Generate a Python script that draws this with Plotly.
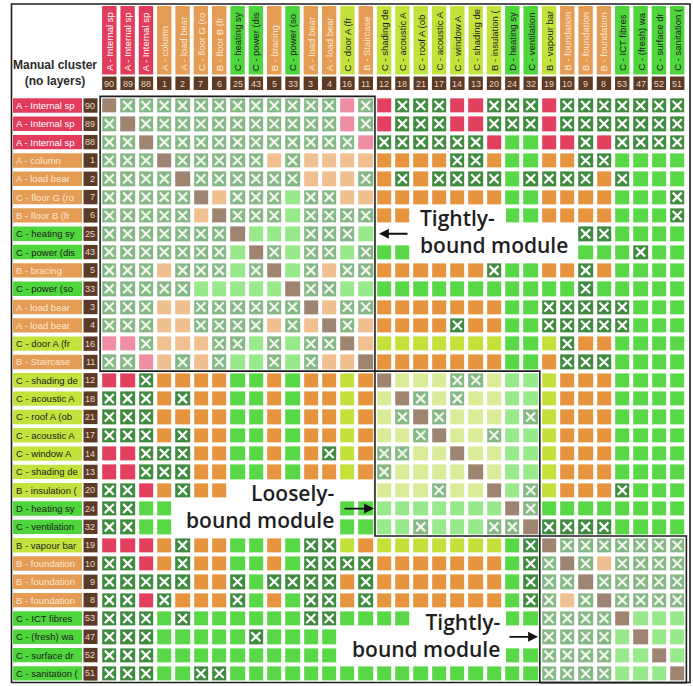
import plotly.graph_objects as go

# ---------------- data ----------------
ids = [90, 89, 88, 1, 2, 7, 6, 25, 43, 5, 33, 3, 4, 16, 11,
       12, 18, 21, 17, 14, 13, 20, 24, 32,
       19, 10, 9, 8, 53, 47, 52, 51]
names = ["A - Internal sp", "A - Internal sp", "A - Internal sp", "A - column",
         "A - load bear", "C - floor G (ro", "B - floor B (fr", "C - heating sy",
         "C - power (dis", "B - bracing", "C - power (so", "A - load bear",
         "A - load bear", "C - door A (fr", "B - Staircase", "C - shading de",
         "C - acoustic A", "C - roof A (ob", "C - acoustic A", "C - window A",
         "C - shading de", "B - insulation (", "D - heating sy", "C - ventilation",
         "B - vapour bar", "B - foundation", "B - foundation", "B - foundation",
         "C - ICT fibres", "C - (fresh) wa", "C - surface dr", "C - sanitation ("]
# element category (label colour): R red, O orange, G green, Y yellow-green
cats = "RRROOOOGGOGOOYOYYYYYYYGGYOOOGGGG"
# module index of each element (three boxed clusters)
modules = [0] * 15 + [1] * 9 + [2] * 8
# DSM cells: D diagonal, X no-interaction mark, R/O/G/Y cell colour
dsm = [
    "DXXXXXXXXXXXXRX" + "R" + "XXXRRXXXRXXXXXXX",
    "XDXXXXXXXXXXXRX" + "R" + "XXXRRXXXRXXXXXXX",
    "XXDXXXXXXXXXXXR" + "X" + "XXXXXRGGRRXRXXXX",
    "XXXDXXXXXOXOOOO" + "O" + "OOOXXOGGOOXXGGGG",
    "XXXXDXXXXXXOOOX" + "O" + "XOXXXXGXXXXOXGGG",
    "XXXXXDOXXXGXXOO" + "O" + "OOOOOOGGOOOOGGGX",
    "XXXXXODXXXGXXXX" + "O" + "OOOOOOGGOOOOGGGX",
    "XXXXXXXDGGGXXXG" + "G" + "GGGGGGGGGGXXGGGG",
    "XXXXXXXGDXGXXGX" + "G" + "GGGGGGGGGGGGGXGG",
    "XXXOXXXGXDGXOXX" + "O" + "OOOOOXGGOOXOGGGG",
    "XXXXXGGGGGDXXGG" + "G" + "GGGGGGGGGGXGGGGG",
    "XXXOOXXXXXXDOXX" + "O" + "OOOOOOGGXXXXXGGG",
    "XXXOOXXXXOXODXO" + "O" + "OOOXOOGGXXXXXGGG",
    "RRXOOOXXGXGXXDO" + "Y" + "YYYYYYGGYXOOGGGG",
    "XXROXOXGGXGXOOD" + "O" + "OOOOOOGGOXXXGGGG",
    "RRXOOOOGGOGOOYO" + "D" + "YYYXXYGGYOOOGGGG",
    "XXXOXOOGGOGOOYO" + "Y" + "DXYXYYGGYOOOGGGG",
    "XXXOOOOGGOGOOYO" + "Y" + "XDXYYYGXYOOOGGGG",
    "XXXOXOOGGOGOOYO" + "Y" + "YXDYYXGGYOOOGGGG",
    "RRXXXOOGGOGOXYO" + "X" + "XYYDYYGGYOOOGGGG",
    "RRXXXOOGGOGOOYO" + "X" + "YYYYDYGGYOOOGGGG",
    "XXROXOOGGOGOOYO" + "Y" + "YYXYYDGXYOOOXGGG",
    "XXGGOOOGGOGOOGG" + "G" + "GGGGGGDXGGGGGGGG",
    "XXGGOOOGGOGOOGG" + "G" + "GXGGGXXDXXXXGGGG",
    "RRROXOOGGOGXXYO" + "Y" + "YYYYYYGXDXXXXXXX",
    "XXROXOOGGOGXXXX" + "O" + "OOOOOOGXXDXOXXXX",
    "XXXXXOOXGXXXXOX" + "O" + "OOOOOOGXXXDXXXXX",
    "XXRXOOOXGOGXXOX" + "O" + "OOOOOOGXXOXDXXXX",
    "XXXGXGGGGGGXXGG" + "G" + "GGGGGGGGXXXXDGGG",
    "XXXGGGGGXGGGGGG" + "G" + "GGGGGGGGXXXXGDGG",
    "XXXGGGGGGGGGGGG" + "G" + "GGGGGGGGXXXXGGDG",
    "XXXGGXXGGGGGGGG" + "G" + "GGGGGGGGXXXXGGGD",
]
module_spans = [(0, 14), (15, 23), (24, 31)]
captions = ["Tightly-<br>bound module", "Loosely-<br>bound module",
            "Tightly-<br>bound module"]

# ---------------- styling ----------------
N = len(ids)
assert all(len(r) == N for r in dsm) and len(dsm) == N
W, H = 693, 686
PITCH = 18.32
X0PX, Y0PX = 109.3, 105.5   # pixel centre of cell (0,0)


def xd(px):
    return (px - X0PX) / PITCH


def yd(py):
    return (py - Y0PX) / PITCH


code_colors = [
    "#9d8571",  # 0 diagonal
    "#86b886",  # 1 X inside module
    "#3f8c3e",  # 2 X outside module
    "#e2405e",  # 3 red
    "#ee8ea2",  # 4 pale red
    "#e6953e",  # 5 orange
    "#f0c090",  # 6 pale orange
    "#58d846",  # 7 green
    "#98e98c",  # 8 pale green
    "#c4e03a",  # 9 yellow-green
    "#dbec98",  # 10 pale yellow-green
]
base_code = {"R": 3, "O": 5, "G": 7, "Y": 9}
label_fill = {"R": "#e13c5c", "O": "#e59c55", "G": "#4fd63c", "Y": "#c3e33c"}
label_text = {"R": "#ffffff", "O": "#fbe7d2", "G": "#1c1c1c", "Y": "#1c1c1c"}
NUM_FILL = "#5b3b25"
NUM_TEXT = "#e6d5c4"

z = []
xs_pale, ys_pale, xs_dark, ys_dark = [], [], [], []
for i, row in enumerate(dsm):
    zr = []
    for j, ch in enumerate(row):
        inside = modules[i] == modules[j]
        if ch == "D":
            c = 0
        elif ch == "X":
            c = 1 if inside else 2
            if inside:
                xs_pale.append(j); ys_pale.append(i)
            else:
                xs_dark.append(j); ys_dark.append(i)
        else:
            c = base_code[ch] + (1 if inside else 0)
        zr.append(c)
    z.append(zr)

n = len(code_colors)
cscale = []
for k, col in enumerate(code_colors):
    cscale.append([k / n, col])
    cscale.append([(k + 1) / n, col])

fig = go.Figure()
fig.add_trace(go.Heatmap(z=z, x=list(range(N)), y=list(range(N)),
                         colorscale=cscale, zmin=-0.5, zmax=n - 0.5,
                         showscale=False, xgap=4, ygap=4, hoverinfo="skip"))
fig.add_trace(go.Scatter(x=xs_pale, y=ys_pale, mode="markers", hoverinfo="skip",
                         marker=dict(symbol="x-thin", size=9,
                                     line=dict(width=2.2, color="#eef6ea"))))
fig.add_trace(go.Scatter(x=xs_dark, y=ys_dark, mode="markers", hoverinfo="skip",
                         marker=dict(symbol="x-thin", size=9,
                                     line=dict(width=2.2, color="#ffffff"))))

shapes = []
annotations = []
HALF = 7.2 / PITCH
LBL_FONT = "Liberation Sans, Arial, sans-serif"

for i in range(N):
    c = cats[i]
    # row labels
    shapes.append(dict(type="rect", xref="x", yref="y", x0=xd(13), x1=xd(82),
                       y0=i - HALF, y1=i + HALF, fillcolor=label_fill[c],
                       line=dict(width=0), layer="below"))
    shapes.append(dict(type="rect", xref="x", yref="y", x0=xd(83.5), x1=xd(97.5),
                       y0=i - HALF, y1=i + HALF, fillcolor=NUM_FILL,
                       line=dict(width=0), layer="below"))
    annotations.append(dict(x=xd(14), y=i, xref="x", yref="y", text=names[i],
                            showarrow=False, xanchor="left", yanchor="middle",
                            font=dict(family=LBL_FONT, size=9.5, color=label_text[c])))
    annotations.append(dict(x=xd(96.5), y=i, xref="x", yref="y", text=str(ids[i]),
                            showarrow=False, xanchor="right", yanchor="middle",
                            font=dict(family=LBL_FONT, size=9, color=NUM_TEXT)))
    # column headers
    shapes.append(dict(type="rect", xref="x", yref="y", x0=i - HALF, x1=i + HALF,
                       y0=yd(6), y1=yd(74.5), fillcolor=label_fill[c],
                       line=dict(width=0), layer="below"))
    shapes.append(dict(type="rect", xref="x", yref="y", x0=i - HALF, x1=i + HALF,
                       y0=yd(76.5), y1=yd(90), fillcolor=NUM_FILL,
                       line=dict(width=0), layer="below"))
    annotations.append(dict(x=i, y=yd(73), xref="x", yref="y", text=names[i],
                            showarrow=False, textangle=-90, xanchor="center",
                            yanchor="bottom",
                            font=dict(family=LBL_FONT, size=9.5, color=label_text[c])))
    annotations.append(dict(x=i, y=yd(83.5), xref="x", yref="y", text=str(ids[i]),
                            showarrow=False, xanchor="center", yanchor="middle",
                            font=dict(family=LBL_FONT, size=9, color=NUM_TEXT)))

# module boxes
for a, b in module_spans:
    shapes.append(dict(type="rect", xref="x", yref="y", x0=a - 0.5, x1=b + 0.5,
                       y0=a - 0.5, y1=b + 0.5, fillcolor="rgba(0,0,0,0)",
                       line=dict(width=1.6, color="#1e1e1e"), layer="above"))

# outer frame
shapes.append(dict(type="rect", xref="paper", yref="paper", x0=11.5 / W, x1=690 / W,
                   y0=1 - 682.5 / H, y1=1 - 4 / H, fillcolor="rgba(0,0,0,0)",
                   line=dict(width=1.6, color="#1e1e1e"), layer="above"))

# white backgrounds behind the module captions (row, px from, px to)
masks = [(6, 412, 506), (7, 377, 578), (8, 412, 578),
         (21, 228, 373.5), (22, 175, 339), (23, 175, 339),
         (28, 411, 506), (29, 339, 538), (30, 339, 506)]
for r, p0, p1 in masks:
    shapes.append(dict(type="rect", xref="x", yref="y", x0=xd(p0), x1=xd(p1),
                       y0=r - 0.5, y1=r + 0.5, fillcolor="#ffffff",
                       line=dict(width=0), layer="above"))

CAP = dict(family="Open Sans, sans-serif", size=21, color="#1e1e1e", weight=600)
annotations += [
    dict(x=xd(418), y=yd(231), xref="x", yref="y", text=captions[0], align="left",
         showarrow=False, xanchor="left", yanchor="middle", font=CAP),
    dict(x=xd(337), y=yd(506), xref="x", yref="y", text=captions[1], align="right",
         showarrow=False, xanchor="right", yanchor="middle", font=CAP),
    dict(x=xd(503), y=yd(635), xref="x", yref="y", text=captions[2], align="right",
         showarrow=False, xanchor="right", yanchor="middle", font=CAP),
]
ARROW = dict(xref="x", yref="y", axref="x", ayref="y", text="", showarrow=True,
             arrowhead=2, arrowsize=1.1, arrowwidth=1.8, arrowcolor="#111111")
annotations += [
    dict(x=xd(379), y=7, ax=xd(409), ay=7, **ARROW),
    dict(x=xd(374), y=22, ax=xd(343), ay=22, **ARROW),
    dict(x=xd(538), y=29, ax=xd(508), ay=29, **ARROW),
]

# top-left caption
TL = dict(family="Liberation Sans, Arial, sans-serif", size=12, color="#2a2a2a", weight=700)
annotations += [
    dict(x=xd(55), y=yd(73), xref="x", yref="y", text="Manual cluster<br>(no layers)",
         showarrow=False, xanchor="center", yanchor="middle", font=TL),
]

fig.update_layout(
    width=W, height=H, margin=dict(l=0, r=0, t=0, b=0),
    paper_bgcolor="#ffffff", plot_bgcolor="#ffffff", showlegend=False,
    xaxis=dict(range=[xd(0), xd(W)], visible=False, fixedrange=True),
    yaxis=dict(range=[yd(H), yd(0)], visible=False, fixedrange=True),
    shapes=shapes, annotations=annotations,
)
fig.write_html("out.html", config={"displayModeBar": False},
               post_script="document.body.style.margin='0px';")
